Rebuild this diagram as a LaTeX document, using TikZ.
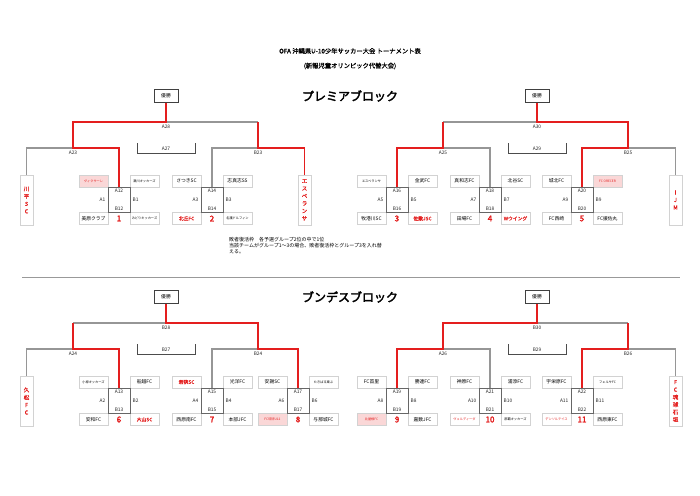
\documentclass[tikz,border=0pt]{standalone}
\usepackage{fontspec}
\setmainfont{Noto Sans CJK JP}
\newfontfamily\jpbold{Noto Sans CJK JP}[FakeBold=3]
\newfontfamily\jpmid{Noto Sans CJK JP}[FakeBold=1]
\definecolor{rd}{RGB}{228,30,30}
\definecolor{gl}{RGB}{150,150,150}
\tikzset{
 gline/.style={draw=gl,line width=1.1pt},
 rline/.style={draw=rd,line width=1.5pt},
 team/.style={draw=gray!35,line width=0.5pt,fill=white,minimum width=29pt,minimum height=12pt,inner sep=0pt,font=\fontsize{4.8}{5}\selectfont},
 small/.style={font=\fontsize{3.2}{4}\selectfont},
 redt/.style={text=rd,font=\fontsize{4.8}{5}\jpmid},
 pink/.style={fill=rd!18},
 matchb/.style={draw=gray!80!black,line width=0.7pt,minimum width=22pt,minimum height=25pt,inner sep=0pt},
 lbl/.style={font=\fontsize{4.8}{5}\selectfont,inner sep=0.5pt,text=black!85},
 num/.style={font=\fontsize{8}{8}\jpbold,text=rd},
 winb/.style={draw=black!75,line width=0.7pt,minimum width=24pt,minimum height=13pt,inner sep=0pt,font=\fontsize{4.8}{5}\selectfont,fill=white},
 vbox/.style={draw=gray!35,line width=0.5pt,fill=white,minimum width=13pt,minimum height=50pt,inner sep=0pt,align=center,text=rd,font=\fontsize{5.5}{7.5}\jpmid},
 bk/.style={draw=black!70,line width=0.6pt},
}
% match: name, cx, ytop, top, bot, left, right, number
\newcommand\mt[8]{%
 \node[matchb] (#1) at (#2,#3+12.5) {};
 \node[lbl] at (#2,#3+3.5) {#4};
 \node[lbl] at (#2,#3+21.5) {#5};
 \node[lbl,anchor=east] at (#2-13,#3+12.5) {#6};
 \node[lbl,anchor=west] at (#2+13,#3+12.5) {#7};
 \node[num] (#1n) at (#2,#3+31.5) {#8};}
% teams around match: name prefix, cx, ytop, UL, UR, LL, LR
\newcommand\tms[7]{%
 \node[team,#4] (#1ul) at (#2-25.5,#3-6) {};
 \node[team,#5] (#1ur) at (#2+25.5,#3-6) {};
 \node[team,#6] (#1ll) at (#2-25.5,#3+31.5) {};
 \node[team,#7] (#1lr) at (#2+25.5,#3+31.5) {};}
\begin{document}
\begin{tikzpicture}[x=1pt,y=-1pt]
\useasboundingbox (0,0) rectangle (700,495);
\fill[white] (0,0) rectangle (700,495);
% titles
\node[font=\fontsize{6.3}{7}\jpmid] (t1) at (350,51) {OFA 沖縄県U-10少年サッカー大会 トーナメント表};
\node[font=\fontsize{6.3}{7}\jpmid] (t2) at (350,66) {(新報児童オリンピック代替大会)};
\node[font=\fontsize{12}{12}\jpbold] (p) at (350,96) {プレミアブロック};
\node[font=\fontsize{12}{12}\jpbold] (b) at (350,297) {ブンデスブロック};
\node[anchor=north west,align=left,font=\fontsize{5}{6.2}\selectfont,inner sep=0pt] (note) at (229,237) {敗者復活枠\quad 各予選グループ2位の中で1位\\当該チームがグループ1〜3の場合、敗者復活枠とグループ3を入れ替\\える。};
\draw[draw=gray!80,line width=0.8pt] (22,277.5) coordinate (s1) -- (680,277.5) coordinate (s2);

% ===== top block =====
\node[winb] (w1) at (166,96) {優勝};
\node[winb] (w2) at (537,96) {優勝};
\node[vbox] (kab) at (26.5,200) {川\\平\\S\\C};
\node[vbox] (esp) at (304.5,200) {エ\\ス\\ペ\\ラ\\ン\\サ};
\node[vbox] (ijm) at (675.5,200) {I\\J\\M};
\tms{a}{119}{187}{pink}{}{}{}
\mt{m12}{119}{187}{A12}{B12}{A1}{B1}{1}
\tms{b}{212}{187}{}{}{}{}
\mt{m14}{212}{187}{A14}{B14}{A3}{B3}{2}
\tms{c}{397}{187}{}{}{}{}
\mt{m16}{397}{187}{A16}{B16}{A5}{B5}{3}
\tms{d}{490}{187}{}{}{}{}
\mt{m18}{490}{187}{A18}{B18}{A7}{B7}{4}
\tms{e}{582}{187}{}{pink}{}{}
\mt{m20}{582}{187}{A20}{B20}{A9}{B9}{5}
% team names top
\node[redt,small] at (aul) {ヴィクサーレ};
\node[small] at (aur) {瀬川キッカーズ};
\node[font=\fontsize{4.8}{5}\selectfont] at (all) {美原クラブ};
\node[small] at (alr) {みどりキッカーズ};
\node[font=\fontsize{4.8}{5}\selectfont] at (bul) {さつきSC};
\node[font=\fontsize{4.8}{5}\selectfont] at (bur) {志真志SS};
\node[redt] at (bll) {北丘FC};
\node[small] at (blr) {名護ドルフィン};
\node[small] at (cul) {エスペランサ};
\node[font=\fontsize{4.8}{5}\selectfont] at (cur) {金武FC};
\node[font=\fontsize{4.8}{5}\selectfont] at (cll) {牧港川SC};
\node[redt] at (clr) {佐敷JSC};
\node[font=\fontsize{4.8}{5}\selectfont] at (dul) {真和志FC};
\node[font=\fontsize{4.8}{5}\selectfont] at (dur) {北谷SC};
\node[font=\fontsize{4.8}{5}\selectfont] at (dll) {田場FC};
\node[redt] at (dlr) {Wウイング};
\node[font=\fontsize{4.8}{5}\selectfont] at (eul) {城北FC};
\node[redt,small] at (eur) {FC ORECER};
\node[font=\fontsize{4.8}{5}\selectfont] at (ell) {FC西崎};
\node[font=\fontsize{4.8}{5}\selectfont] at (elr) {FC援佐丸};
% lines top left
\draw[gline] (166,122) -- (258,122);
\draw[gline] (kab.north) |- (73,148);
\draw[gline] (m14.north) |- (258,148);
\draw[rline] (w1.south) |- (73,122) -- (73,148) -| (m12.north);
\draw[rline] (258,122) -- (258,148) -| (esp.north);
\node[lbl] at (166,127) {A28};
\node[lbl] at (73,152.5) {A23};
\node[lbl] at (258,152.5) {B23};
\draw[bk] (137,143) -- (137,153) -- (195,153) -- (195,143);
\node[lbl] at (166,149) {A27};
% lines top right
\draw[gline] (443,122) -- (537,122);
\draw[gline] (443,148) -| (m18.north);
\draw[gline] (628,148) -| (ijm.north);
\draw[rline] (w2.south) |- (628,122) -- (628,148) -| (m20.north);
\draw[rline] (443,122) -- (443,148) -| (m16.north);
\node[lbl] at (537,127) {A30};
\node[lbl] at (443,152.5) {A25};
\node[lbl] at (628,152.5) {B25};
\draw[bk] (508,143) -- (508,153) -- (566,153) -- (566,143);
\node[lbl] at (537,149) {A29};

% ===== bottom block =====
\node[winb] (w3) at (166,297) {優勝};
\node[winb] (w4) at (537,297) {優勝};
\node[vbox] (kum) at (26.5,401) {久\\松\\F\\C};
\node[vbox] (ish) at (675.5,401) {F\\C\\琉\\球\\石\\垣};
\tms{f}{119}{388}{}{}{}{}
\mt{m13}{119}{388}{A13}{B13}{A2}{B2}{6}
\tms{g}{212}{388}{}{}{}{}
\mt{m15}{212}{388}{A15}{B15}{A4}{B4}{7}
\tms{h}{298}{388}{}{}{pink}{}
\mt{m17}{298}{388}{A17}{B17}{A6}{B6}{8}
\tms{i}{397}{388}{}{}{pink}{}
\mt{m19}{397}{388}{A19}{B19}{A8}{B8}{9}
\tms{j}{490}{388}{}{}{}{}
\mt{m21}{490}{388}{A21}{B21}{A10}{B10}{10}
\tms{k}{582}{388}{}{}{}{}
\mt{m22}{582}{388}{A22}{B22}{A11}{B11}{11}
\node[small] at (ful) {小禄キッカーズ};
\node[font=\fontsize{4.8}{5}\selectfont] at (fur) {船越FC};
\node[font=\fontsize{4.8}{5}\selectfont] at (fll) {安和FC};
\node[redt] at (flr) {大山SC};
\node[redt] at (gul) {若狭SC};
\node[font=\fontsize{4.8}{5}\selectfont] at (gur) {光洋FC};
\node[font=\fontsize{4.8}{5}\selectfont] at (gll) {西原南FC};
\node[font=\fontsize{4.8}{5}\selectfont] at (glr) {本部JFC};
\node[font=\fontsize{4.8}{5}\selectfont] at (hul) {安謝SC};
\node[small] at (hur) {たきばる東ぷ};
\node[redt,small] at (hll) {FC琉球U12};
\node[font=\fontsize{4.8}{5}\selectfont] at (hlr) {与那城FC};
\node[font=\fontsize{4.8}{5}\selectfont] at (iul) {FC首里};
\node[font=\fontsize{4.8}{5}\selectfont] at (iur) {勝連FC};
\node[redt,small] at (ill) {比屋根FC};
\node[font=\fontsize{4.8}{5}\selectfont] at (ilr) {嘉数JFC};
\node[font=\fontsize{4.8}{5}\selectfont] at (jul) {神原FC};
\node[font=\fontsize{4.8}{5}\selectfont] at (jur) {浦添FC};
\node[redt,small] at (jll) {ヴェルディーダ};
\node[small] at (jlr) {那覇キッカーズ};
\node[font=\fontsize{4.8}{5}\selectfont] at (kul) {宇栄原FC};
\node[small] at (kur) {フェルサFC};
\node[redt,small] at (kll) {デンソルテイス};
\node[font=\fontsize{4.8}{5}\selectfont] at (klr) {西原東FC};
% lines bottom left
\draw[gline] (73,323) -- (166,323);
\draw[gline] (kum.north) |- (73,349);
\draw[gline] (m15.north) |- (258,349);
\draw[rline] (w3.south) |- (258,323) -- (258,349) -| (m17.north);
\draw[rline] (73,323) -- (73,349) -| (m13.north);
\node[lbl] at (166,328) {B28};
\node[lbl] at (73,353.5) {A24};
\node[lbl] at (258,353.5) {B24};
\draw[bk] (137,344) -- (137,354) -- (195,354) -- (195,344);
\node[lbl] at (166,350) {B27};
% lines bottom right
\draw[gline] (537,323) -- (628,323);
\draw[gline] (443,349) -| (m21.north);
\draw[gline] (628,349) -| (ish.north);
\draw[rline] (w4.south) |- (443,323) -- (443,349) -| (m19.north);
\draw[rline] (628,323) -- (628,349) -| (m22.north);
\node[lbl] at (537,328) {B30};
\node[lbl] at (443,353.5) {A26};
\node[lbl] at (628,353.5) {B26};
\draw[bk] (508,344) -- (508,354) -- (566,354) -- (566,344);
\node[lbl] at (537,350) {B29};
\end{tikzpicture}
\end{document}
